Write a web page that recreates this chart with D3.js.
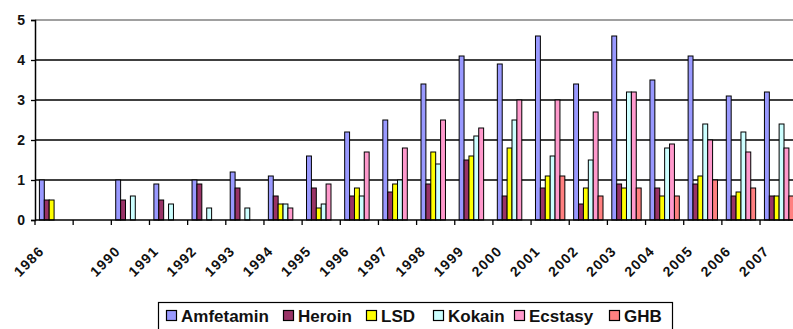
<!DOCTYPE html>
<html>
<head>
<meta charset="utf-8">
<script src="https://cdn.jsdelivr.net/npm/d3@7"></script>
<style>
  html, body { margin: 0; padding: 0; background: #fff; }
  svg { display: block; font-family: "Liberation Sans", Arial, sans-serif; font-weight: bold; }
</style>
</head>
<body>
<svg id="chart" width="793" height="329"></svg>
<script>
// Categories (one empty slot between 1986 and 1990)
const years = ["1986", "", "1990", "1991", "1992", "1993", "1994", "1995", "1996", "1997",
               "1998", "1999", "2000", "2001", "2002", "2003", "2004", "2005", "2006", "2007"];

const seriesNames = ["Amfetamin", "Heroin", "LSD", "Kokain", "Ecstasy", "GHB"];
const seriesColors = ["#9999FF", "#993366", "#FFFF00", "#CCFFFF", "#FF99CC", "#FF8080"];

const amfetamin = [1.0, null, 1.0, 0.9, 1.0, 1.2, 1.1, 1.6, 2.2, 2.5, 3.4, 4.1, 3.9, 4.6, 3.4, 4.6, 3.5, 4.1, 3.1, 3.2];
const heroin    = [0.5, null, 0.5, 0.5, 0.9, 0.8, 0.6, 0.8, 0.6, 0.7, 0.9, 1.5, 0.6, 0.8, 0.4, 0.9, 0.8, 0.9, 0.6, 0.6];
const lsd       = [0.5, null, null, null, null, null, 0.4, 0.3, 0.8, 0.9, 1.7, 1.6, 1.8, 1.1, 0.8, 0.8, 0.6, 1.1, 0.7, 0.6];
const kokain    = [null, null, 0.6, 0.4, 0.3, 0.3, 0.4, 0.4, 0.6, 1.0, 1.4, 2.1, 2.5, 1.6, 1.5, 3.2, 1.8, 2.4, 2.2, 2.4];
const ecstasy   = [null, null, null, null, null, null, 0.3, 0.9, 1.7, 1.8, 2.5, 2.3, 3.0, 3.0, 2.7, 3.2, 1.9, 2.0, 1.7, 1.8];
const ghb       = [null, null, null, null, null, null, null, null, null, null, null, null, null, 1.1, 0.6, 0.8, 0.6, 1.0, 0.8, 0.6];

const yTicks = [0, 1, 2, 3, 4, 5];

const seriesValues = [amfetamin, heroin, lsd, kokain, ecstasy, ghb];

const svg = d3.select("#chart");
const plotLeft = 35, plotTop = 20, plotBottom = 220;
const bandW = 38.16;

const x = d3.scaleBand()
  .domain(d3.range(years.length))
  .range([plotLeft, plotLeft + bandW * years.length])
  .padding(0);

const inner = d3.scaleBand()
  .domain(seriesNames)
  .range([4.4, bandW - 4.4])
  .padding(0);

const y = d3.scaleLinear().domain([0, 5]).range([plotBottom, plotTop]);

// gridlines (top one lighter)
svg.append("g")
  .selectAll("line")
  .data(yTicks.filter(d => d > 0))
  .join("line")
  .attr("x1", plotLeft).attr("x2", 793)
  .attr("y1", d => y(d)).attr("y2", d => y(d))
  .attr("stroke", d => d === 5 ? "#808080" : "#000")
  .attr("stroke-width", d => d === 5 ? 1.6 : 1.3);

// bars
const rows = [];
years.forEach((yr, i) => {
  seriesNames.forEach((s, k) => {
    const v = seriesValues[k][i];
    if (v != null) rows.push({ i, s, v, color: seriesColors[k] });
  });
});

svg.append("g")
  .selectAll("rect")
  .data(rows)
  .join("rect")
  .attr("x", d => x(d.i) + inner(d.s))
  .attr("y", d => y(d.v))
  .attr("width", inner.bandwidth())
  .attr("height", d => y(0) - y(d.v))
  .attr("fill", d => d.color)
  .attr("stroke", "#000")
  .attr("stroke-width", 1);

// y axis
const yAxis = svg.append("g")
  .attr("transform", `translate(${plotLeft},0)`)
  .call(d3.axisLeft(y).tickValues(yTicks).tickSize(4).tickPadding(6).tickFormat(d3.format("d")));
yAxis.select(".domain").attr("stroke", "#000").attr("stroke-width", 1.5);
yAxis.selectAll(".tick line").attr("stroke", "#000").attr("stroke-width", 1.3);
yAxis.selectAll(".tick text")
  .attr("font-family", "'Liberation Sans', Arial, sans-serif")
  .attr("font-weight", "bold")
  .attr("font-size", 14)
  .attr("fill", "#111");

// x axis line and boundary ticks
svg.append("line")
  .attr("x1", plotLeft).attr("x2", 793)
  .attr("y1", plotBottom).attr("y2", plotBottom)
  .attr("stroke", "#000").attr("stroke-width", 1.5);

svg.append("g")
  .selectAll("line")
  .data(d3.range(years.length + 1))
  .join("line")
  .attr("x1", i => plotLeft + i * x.step())
  .attr("x2", i => plotLeft + i * x.step())
  .attr("y1", plotBottom).attr("y2", plotBottom + 5)
  .attr("stroke", "#000").attr("stroke-width", 1.3);

// rotated year labels
svg.append("g")
  .selectAll("text")
  .data(years.map((t, i) => ({ t, i })).filter(d => d.t !== ""))
  .join("text")
  .attr("transform", d => `translate(${x(d.i) + x.bandwidth() / 2 - 9},252) rotate(-45)`)
  .attr("text-anchor", "end")
  .attr("font-size", 14)
  .attr("letter-spacing", 1.2)
  .attr("fill", "#111")
  .text(d => d.t);

// legend
const legendX = [166, 283, 366, 433, 514, 609];
const lg = svg.append("g");
lg.append("rect")
  .attr("x", 158.5).attr("y", 302.5)
  .attr("width", 514).attr("height", 30)
  .attr("fill", "#fff").attr("stroke", "#000").attr("stroke-width", 1.2);

const items = lg.selectAll("g.item")
  .data(seriesNames.map((s, k) => ({ s, c: seriesColors[k], x: legendX[k] })))
  .join("g").attr("class", "item");
items.append("rect")
  .attr("x", d => d.x + 0.5).attr("y", 310.5)
  .attr("width", 10).attr("height", 10)
  .attr("fill", d => d.c).attr("stroke", "#000").attr("stroke-width", 1.2);
items.append("text")
  .attr("x", d => d.x + 15).attr("y", 321.5)
  .attr("font-size", 17)
  .attr("fill", "#111")
  .text(d => d.s);
</script>
</body>
</html>
